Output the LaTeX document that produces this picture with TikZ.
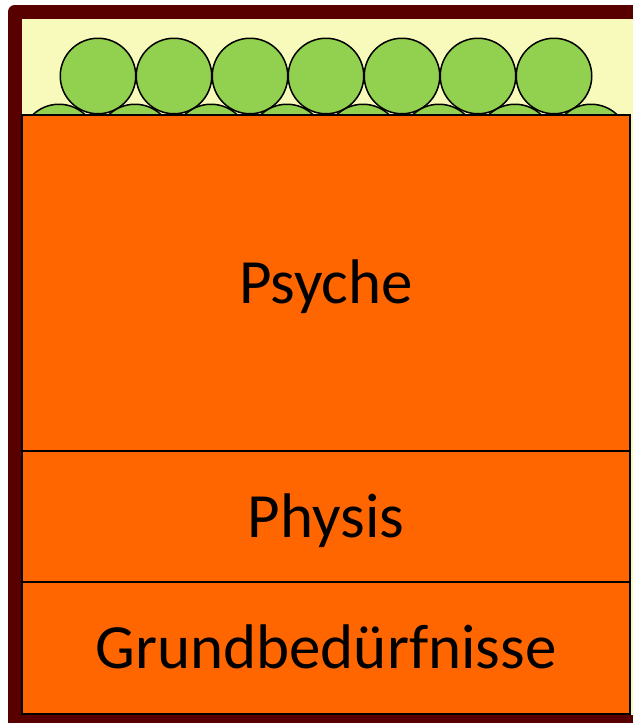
\documentclass[tikz,border=0pt]{standalone}
\usepackage{fontspec}
\setmainfont{Carlito}
\definecolor{framebrown}{RGB}{88,0,0}
\definecolor{cream}{RGB}{248,250,188}
\definecolor{ballgreen}{RGB}{146,208,80}
\definecolor{boxorange}{RGB}{255,102,0}
\tikzset{
  ball/.style={circle, draw=black, line width=1.5pt, fill=ballgreen, minimum size=75.5pt, inner sep=0pt, outer sep=0pt},
  layer/.style={rectangle, draw=black, line width=1.4pt, fill=boxorange, minimum width=608pt, inner sep=0pt, outer sep=0pt,
    font=\fontsize{63}{72}\selectfont, text height=46pt, text depth=5pt},
}
\begin{document}
\begin{tikzpicture}[x=1pt,y=-1pt]
\useasboundingbox (0,0) rectangle (632,723);
% container interior
\fill[cream] (15,11.5) rectangle (646,722);
% balls (hexagonal packing)
\foreach \r in {0,...,10}{
  \pgfmathtruncatemacro{\odd}{mod(\r,2)}
  \pgfmathsetmacro{\yy}{76+66*\r}
  \ifnum\odd=0
    \foreach \c in {0,...,6}{
      \node[ball] (b\r-\c) at ({98+76*\c},\yy) {};
    }
  \else
    \foreach \c in {0,...,7}{
      \node[ball] (b\r-\c) at ({59+76*\c},\yy) {};
    }
  \fi
}
% container frame
\draw[framebrown, line width=14pt, line join=round] (15,11.5) rectangle (646,722);
% layers
\node[layer, minimum height=336pt] (psyche) at (326,283) {Psyche};
\node[layer, minimum height=131pt] (physis) at (326,516.5) {Physis};
\node[layer, minimum height=132pt] (grund) at (326,648) {Grundbedürfnisse};
\end{tikzpicture}
\end{document}
